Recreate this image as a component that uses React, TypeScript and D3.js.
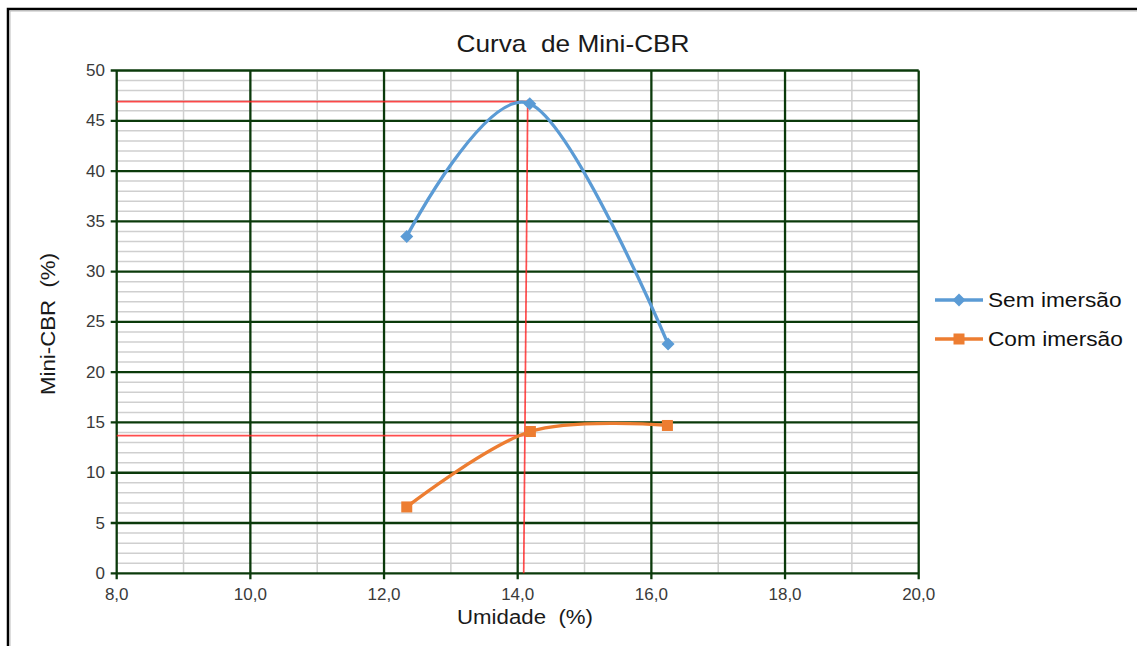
import React from "react";
import * as d3 from "d3";

const umidadeSem = [12.34, 14.18, 16.25];
const cbrSem = [33.5, 46.7, 22.8];
const umidadeCom = [12.34, 14.19, 16.24];
const cbrCom = [6.6, 14.1, 14.7];
const seriesNames = ["Sem imersão", "Com imersão"];
const xTicks = [8, 10, 12, 14, 16, 18, 20];
const yTicks = [0, 5, 10, 15, 20, 25, 30, 35, 40, 45, 50];
// reference red guide lines: [x1, y1, x2, y2]
const guideLines = [
  [8, 46.9, 14.15, 46.9],
  [8, 13.7, 14.09, 13.7],
  [14.15, 47.1, 14.09, 0],
];

const W = 1137;
const H = 646;
const left = 116.7, right = 918.7, top = 70.5, bottom = 573.3;
const GREEN = "#0b3a0b";
const BLUE = "#5b9bd5";
const ORANGE = "#ed7d31";
const FONT = "Liberation Sans, Arial, sans-serif";

export default function App() {
  const x = d3.scaleLinear().domain([8, 20]).range([left, right]);
  const y = d3.scaleLinear().domain([0, 50]).range([bottom, top]);
  const line = d3
    .line<[number, number]>()
    .x((d) => x(d[0]))
    .y((d) => y(d[1]))
    .curve(d3.curveCardinal.tension(0));
  const semPts = umidadeSem.map((u, i) => [u, cbrSem[i]] as [number, number]);
  const comPts = umidadeCom.map((u, i) => [u, cbrCom[i]] as [number, number]);
  const minorX = d3.range(8, 20.001, 1).filter((v) => v % 2 !== 0);
  const minorY = d3.range(0, 50.001, 1).filter((v) => v % 5 !== 0);
  const fmt = (v: number) => v.toFixed(1).replace(".", ",");
  const diamond = "M0,-6.5L6.5,0L0,6.5L-6.5,0Z";

  return (
    <svg
      width={W}
      height={H}
      style={{ position: "absolute", left: 0, top: 0, background: "#fff" }}
      fontFamily={FONT}
    >
      <rect x={0} y={0} width={W} height={H} fill="#fff" />
      {/* outer frame */}
      <rect x={8} y={9} width={W + 20} height={H + 20} fill="none" stroke="#000" strokeWidth={2.5} />
      <rect x={10} y={11} width={W + 20} height={H + 20} fill="none" stroke="#bbb" strokeWidth={1} />

      {/* minor grid */}
      {minorY.map((v) => (
        <line key={"my" + v} x1={left} x2={right} y1={y(v)} y2={y(v)} stroke="#cfcfcf" strokeWidth={1.5} />
      ))}
      {minorX.map((v) => (
        <line key={"mx" + v} x1={x(v)} x2={x(v)} y1={top} y2={bottom} stroke="#cfcfcf" strokeWidth={1.5} />
      ))}
      {/* major grid */}
      {yTicks.map((v) => (
        <line key={"gy" + v} x1={left - 6} x2={right} y1={y(v)} y2={y(v)} stroke={GREEN} strokeWidth={2.3} />
      ))}
      {xTicks.map((v) => (
        <line key={"gx" + v} x1={x(v)} x2={x(v)} y1={top} y2={bottom + 6} stroke={GREEN} strokeWidth={2.3} />
      ))}

      {/* tick labels */}
      {yTicks.map((v) => (
        <text key={"ty" + v} x={105} y={y(v)} textAnchor="end" dominantBaseline="central" fontSize={17} fill="#3a3a3a">
          {v}
        </text>
      ))}
      {xTicks.map((v) => (
        <text key={"tx" + v} x={x(v)} y={600} textAnchor="middle" fontSize={17} fill="#3a3a3a">
          {fmt(v)}
        </text>
      ))}

      {/* red guides */}
      {guideLines.map((g, i) => (
        <line
          key={"rg" + i}
          x1={x(g[0])}
          y1={y(g[1])}
          x2={x(g[2])}
          y2={y(g[3])}
          stroke="#ff2020"
          strokeOpacity={0.8}
          strokeWidth={1.7}
        />
      ))}

      {/* series */}
      <path d={line(semPts) || ""} fill="none" stroke={BLUE} strokeWidth={3.3} />
      <path d={line(comPts) || ""} fill="none" stroke={ORANGE} strokeWidth={3.3} />
      {semPts.map((p, i) => (
        <path key={"sd" + i} d={diamond} transform={`translate(${x(p[0])},${y(p[1])})`} fill={BLUE} />
      ))}
      {comPts.map((p, i) => (
        <rect key={"cs" + i} x={x(p[0]) - 5.5} y={y(p[1]) - 5.5} width={11} height={11} fill={ORANGE} />
      ))}

      {/* titles */}
      <text x={573} y={52} textAnchor="middle" fontSize={23} fill="#1a1a1a" style={{ whiteSpace: "pre" }} transform="translate(573,0) scale(1.14,1) translate(-573,0)">
        Curva  de Mini-CBR
      </text>
      <text x={525} y={624} textAnchor="middle" fontSize={21} fill="#1a1a1a" style={{ whiteSpace: "pre" }} transform="translate(525,0) scale(1.06,1) translate(-525,0)">
        Umidade  (%)
      </text>
      <text
        transform={`translate(48,324) rotate(-90) scale(1.06,1)`}
        textAnchor="middle"
        dominantBaseline="central"
        fontSize={21}
        fill="#1a1a1a"
        style={{ whiteSpace: "pre" }}
      >
        Mini-CBR  (%)
      </text>

      {/* legend */}
      {seriesNames.map((name, i) => {
        const ly = 300 + i * 39;
        const c = i === 0 ? BLUE : ORANGE;
        return (
          <g key={name}>
            <line x1={935} x2={983} y1={ly} y2={ly} stroke={c} strokeWidth={3.3} />
            {i === 0 ? (
              <path d={diamond} transform={`translate(959,${ly})`} fill={c} />
            ) : (
              <rect x={953.5} y={ly - 5.5} width={11} height={11} fill={c} />
            )}
            <text x={988} y={ly} dominantBaseline="central" fontSize={21} fill="#111" transform="translate(988,0) scale(1.08,1) translate(-988,0)">
              {name}
            </text>
          </g>
        );
      })}
    </svg>
  );
}
